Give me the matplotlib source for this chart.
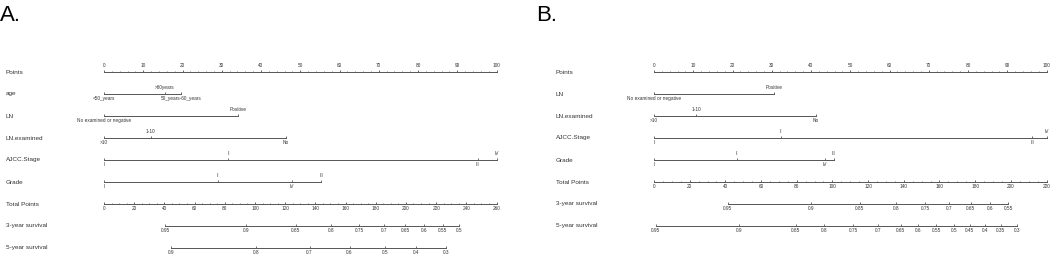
import numpy as np
import matplotlib.pyplot as plt
from matplotlib.transforms import blended_transform_factory

# ---- panel A data ----
a_age_levels = ["<50_years", ">60years", "50_years-60_years"]
a_age_points = [0, 15.5, 19.6]
a_ln_levels = ["No examined or negative", "Positive"]
a_ln_points = [0, 34.1]
a_lnexam_levels = [">10", "1-10", "No"]
a_lnexam_points = [0, 11.9, 46.3]
a_stage_levels = ["I", "II", "III", "IV"]
a_stage_points = [0, 31.7, 95.2, 100]
a_grade_levels = ["I", "II", "IV", "III"]
a_grade_points = [0, 29.0, 47.8, 55.4]
a_total_max = 260
a_surv3 = ["0.95", "0.9", "0.85", "0.8", "0.75", "0.7", "0.65", "0.6", "0.55", "0.5"]
a_surv3_total = [40.5, 94.0, 126.9, 150.3, 169.1, 185.7, 199.6, 212.2, 224.4, 235.2]
a_surv5 = ["0.9", "0.8", "0.7", "0.6", "0.5", "0.4", "0.3"]
a_surv5_total = [44.4, 100.6, 136.2, 162.7, 186.4, 206.5, 226.8]

# ---- panel B data ----
b_ln_levels = ["No examined or negative", "Positive"]
b_ln_points = [0, 30.5]
b_lnexam_levels = [">10", "1-10", "No"]
b_lnexam_points = [0, 10.7, 41.3]
b_stage_levels = ["I", "II", "III", "IV"]
b_stage_points = [0, 32.3, 96.4, 100]
b_grade_levels = ["I", "II", "IV", "III"]
b_grade_points = [0, 21.2, 43.6, 45.8]
b_total_max = 220
b_surv3 = ["0.95", "0.9", "0.85", "0.8", "0.75", "0.7", "0.65", "0.6", "0.55"]
b_surv3_total = [41.4, 87.8, 115.3, 135.8, 151.9, 165.4, 177.5, 188.4, 198.5]
b_surv5 = ["0.95", "0.9", "0.85", "0.8", "0.75", "0.7", "0.65", "0.6", "0.55",
           "0.5", "0.45", "0.4", "0.35", "0.3"]
b_surv5_total = [1.1, 47.6, 79.6, 95.5, 111.6, 125.5, 138.2, 148.1, 158.2,
                 168.0, 177.0, 185.6, 194.4, 203.4]

plt.rcParams['font.family'] = ['Liberation Sans', 'DejaVu Sans']
LINE = '#555555'
TEXT = '#333333'
W, H = 1056, 259
LAB_FS = 4.6
TICK_FS = 3.4
TICK = 0.09


def label_above(ax, x, y, s):
    ax.annotate(s, (x, y), xytext=(0, 1.2), textcoords='offset points',
                ha='center', va='bottom', fontsize=TICK_FS, color=TEXT,
                annotation_clip=False)


def label_below(ax, x, y, s):
    ax.annotate(s, (x, y), xytext=(0, -1.2), textcoords='offset points',
                ha='center', va='top', fontsize=TICK_FS, color=TEXT,
                annotation_clip=False)


def ticks(ax, xs, y, length, lw=0.6):
    ax.vlines(xs, y, y - length, color=LINE, lw=lw, clip_on=False)


def draw_panel(fig, left_px, right_px, top_px, title, title_px, label_px,
               variables, total_max, surv3, surv3_total, surv5, surv5_total):
    nrows = len(variables) + 4
    rect = [left_px / W, 1 - (top_px + 22 * (nrows - 1)) / H,
            (right_px - left_px) / W, 22 * (nrows - 1) / H]
    ax = fig.add_axes(rect)
    ax.set_xlim(0, 100)
    ax.set_ylim(nrows - 1, 0)
    ax.axis('off')
    trans = blended_transform_factory(fig.transFigure, ax.transData)
    names = ["Points"] + [v[0] for v in variables] + \
        ["Total Points", "3-year survival", "5-year survival"]
    for i, name in enumerate(names):
        ax.text(label_px / W, i, name, transform=trans, ha='left', va='center',
                fontsize=LAB_FS, color=TEXT)

    # points scale
    ax.plot([0, 100], [0, 0], color=LINE, lw=0.7, clip_on=False)
    ticks(ax, np.arange(0, 101, 2), 0, TICK * 0.6, lw=0.5)
    for p in range(0, 101, 10):
        ticks(ax, [p], 0, TICK)
        label_above(ax, p, -TICK, str(p))

    # predictors
    for r, (name, levels, pts) in enumerate(variables, start=1):
        ax.plot([min(pts), max(pts)], [r, r], color=LINE, lw=0.7, clip_on=False)
        order = np.argsort(pts)
        for k, idx in enumerate(order):
            ticks(ax, [pts[idx]], r, TICK)
            if k % 2 == 0:
                label_below(ax, pts[idx], r, levels[idx])
            else:
                label_above(ax, pts[idx], r - TICK, levels[idx])

    # total points
    r = len(variables) + 1
    scale = 100 / total_max
    ax.plot([0, 100], [r, r], color=LINE, lw=0.7, clip_on=False)
    ticks(ax, np.arange(0, total_max + 1, 5) * scale, r, TICK * 0.6, lw=0.5)
    for t in range(0, total_max + 1, 20):
        ticks(ax, [t * scale], r, TICK)
        label_below(ax, t * scale, r, str(t))

    # survival scales
    for r, labs, tot in [(r + 1, surv3, surv3_total), (r + 2, surv5, surv5_total)]:
        xs = np.array(tot) * scale
        ax.plot([xs.min(), xs.max()], [r, r], color=LINE, lw=0.7, clip_on=False)
        ticks(ax, xs, r, TICK)
        for x, s in zip(xs, labs):
            label_below(ax, x, r, s)

    fig.text(title_px / W, 1 - 21 / H, title, fontsize=16, color='black',
             ha='left', va='baseline')


fig = plt.figure(figsize=(W / 100, H / 100), dpi=100)

a_vars = [("age", a_age_levels, a_age_points),
          ("LN", a_ln_levels, a_ln_points),
          ("LN.examined", a_lnexam_levels, a_lnexam_points),
          ("AJCC.Stage", a_stage_levels, a_stage_points),
          ("Grade", a_grade_levels, a_grade_points)]
b_vars = [("LN", b_ln_levels, b_ln_points),
          ("LN.examined", b_lnexam_levels, b_lnexam_points),
          ("AJCC.Stage", b_stage_levels, b_stage_points),
          ("Grade", b_grade_levels, b_grade_points)]

draw_panel(fig, 104, 496.5, 72, "A.", 0, 6, a_vars, a_total_max,
           a_surv3, a_surv3_total, a_surv5, a_surv5_total)
draw_panel(fig, 654, 1046.5, 72, "B.", 536, 556, b_vars, b_total_max,
           b_surv3, b_surv3_total, b_surv5, b_surv5_total)

fig.savefig("out.png", dpi=100)
